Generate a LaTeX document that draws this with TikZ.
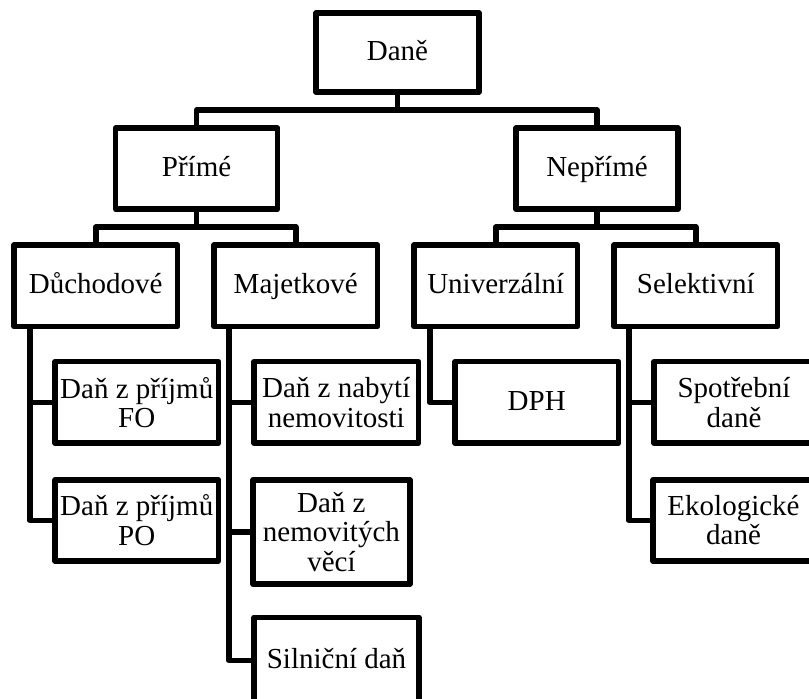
\documentclass[tikz,border=0pt]{standalone}
\usepackage{fontspec}
\setmainfont{Liberation Serif}
\begin{document}
\begin{tikzpicture}[x=1pt,y=-1pt,
  every node/.style={font=\fontsize{29}{29.5}\selectfont},
  box/.style={draw, line width=5.5pt, line join=round, rectangle,
              align=center, inner sep=2pt},
  oneline/.style={box, text height=22pt, text depth=5.6pt},
  link/.style={draw, line width=5.5pt, line join=round}]
\useasboundingbox (0,0) rectangle (809,699);

% tree levels 0 and 1
\node[oneline, minimum width=163pt, minimum height=79pt] (dane) at (397.5,52.5) {Daně};
\node[oneline, minimum width=162pt, minimum height=81pt] (prime) at (196.6,168.7) {Přímé};
\node[oneline, minimum width=162pt, minimum height=81pt] (neprime) at (597,168.7) {Nepřímé};

% level 2
\node[oneline, minimum width=163.5pt, minimum height=81.5pt] (duch) at (95.75,285.75) {Důchodové};
\node[oneline, minimum width=163.5pt, minimum height=81.5pt] (maj) at (295.75,285.75) {Majetkové};
\node[oneline, minimum width=163.5pt, minimum height=81.5pt] (univ) at (495.75,285.75) {Univerzální};
\node[oneline, minimum width=163.5pt, minimum height=81.5pt] (sel) at (695.75,285.75) {Selektivní};

% leaves
\node[box, minimum width=163.5pt, minimum height=81.5pt] (fo) at (136.75,402.45) {Daň z příjmů\\FO};
\node[box, minimum width=163.5pt, minimum height=81pt] (po) at (136.75,520.3) {Daň z příjmů\\PO};
\node[box, minimum width=164.5pt, minimum height=81.5pt] (nabyti) at (336.25,402.45) {Daň z nabytí\\nemovitosti};
\node[box, minimum width=156.8pt, minimum height=104.4pt] (nemov) at (331.4,532) {Daň z\\nemovitých\\věcí};
\node[oneline, minimum width=165pt, minimum height=85.5pt] (siln) at (336.5,660.25) {Silniční daň};
\node[oneline, minimum width=163.5pt, minimum height=81.5pt] (dph) at (536.75,402.45) {DPH};
\node[box, minimum width=160pt, minimum height=81.5pt] (spot) at (734,402.45) {Spotřební\\daně};
\node[box, minimum width=161pt, minimum height=81pt] (eko) at (733.5,520.3) {Ekologické\\daně};

% horizontal buses
\coordinate (bus1) at (397.5,110);
\coordinate (bus2) at (196.6,227);
\coordinate (bus3) at (597,227);

\path[link] (dane.south) -- (bus1);
\path[link] (prime.north) |- (bus1) -| (neprime.north);
\path[link] (prime.south) -- (bus2);
\path[link] (duch.north) |- (bus2) -| (maj.north);
\path[link] (neprime.south) -- (bus3);
\path[link] (univ.north) |- (bus3) -| (sel.north);

% side trunks to the leaves
\path[link] ([xshift=-66pt]duch.south) |- (po.west);
\path[link] ([xshift=-66pt]duch.south |- fo.west) -- (fo.west);
\path[link] ([xshift=-67pt]maj.south) |- (siln.west);
\path[link] ([xshift=-67pt]maj.south |- nabyti.west) -- (nabyti.west);
\path[link] ([xshift=-67pt]maj.south |- nemov.west) -- (nemov.west);
\path[link] ([xshift=-66pt]univ.south) |- (dph.west);
\path[link] ([xshift=-67pt]sel.south) |- (eko.west);
\path[link] ([xshift=-67pt]sel.south |- spot.west) -- (spot.west);
\end{tikzpicture}
\end{document}
